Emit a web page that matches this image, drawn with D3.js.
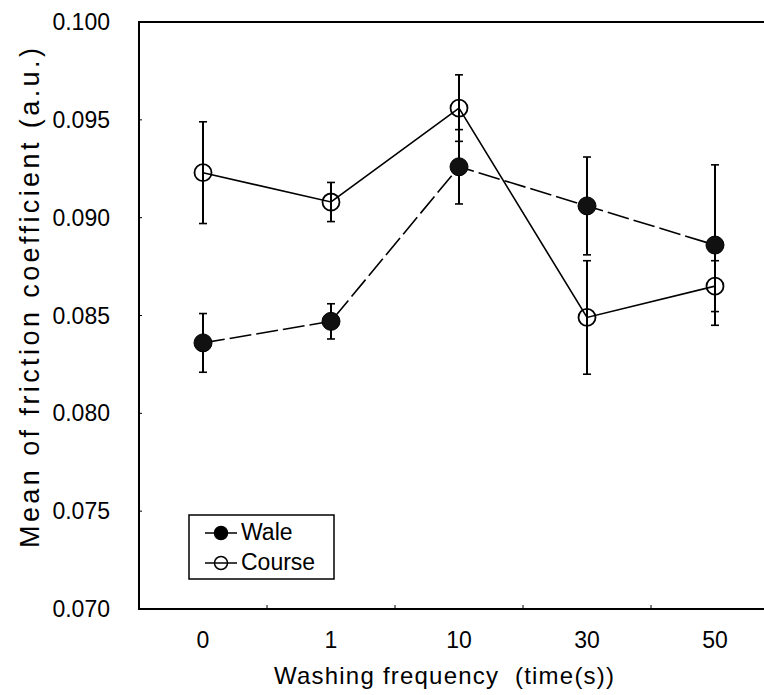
<!DOCTYPE html>
<html>
<head>
<meta charset="utf-8">
<script src="https://cdn.jsdelivr.net/npm/d3@7"></script>
<style>
  body { margin: 0; background: #fff; }
  svg { display: block; font-family: "Liberation Sans", Arial, sans-serif; }
</style>
</head>
<body>
<svg></svg>
<script>
// washing frequency categories
var washes = ["0", "1", "10", "30", "50"];
// Wale series (filled markers, dashed line)
var waleMean = [0.0836, 0.0847, 0.0926, 0.0906, 0.0886];
var waleErr = [0.0015, 0.0009, 0.0019, 0.0025, 0.0041];
// Course series (open markers, solid line)
var courseMean = [0.0923, 0.0908, 0.0956, 0.0849, 0.0865];
var courseErr = [0.0026, 0.0010, 0.0017, 0.0029, 0.0013];
var yTicks = [0.070, 0.075, 0.080, 0.085, 0.090, 0.095, 0.100];

var screen = { width: 764, height: 695 };
var margins = { left: 139, top: 22, bottom: 86 };
var plot = { right: 779, bottom: screen.height - margins.bottom };

var svg = d3.select("svg").attr("width", screen.width).attr("height", screen.height);

var xScale = d3.scalePoint().domain(washes).range([margins.left, plot.right]).padding(0.5);
var yScale = d3.scaleLinear().domain([0.07, 0.1]).range([plot.bottom, margins.top]);
var step = xScale.step();

// frame: left, top and bottom lines (right side runs off the page)
var frame = svg.append("g").attr("stroke", "#000").attr("stroke-width", 2).attr("fill", "none");
frame.append("path")
  .attr("d", "M" + plot.right + "," + margins.top + "H" + margins.left + "V" + plot.bottom + "H" + plot.right);

// inward tick marks between categories
frame.selectAll("line.xt")
  .data(washes.slice(1))
  .enter()
  .append("line")
  .attr("stroke-width", 1)
  .attr("x1", function (d) { return xScale(d) - step / 2; })
  .attr("x2", function (d) { return xScale(d) - step / 2; })
  .attr("y1", plot.bottom)
  .attr("y2", plot.bottom - 4);

frame.selectAll("line.yt")
  .data(yTicks.slice(1, -1))
  .enter()
  .append("line")
  .attr("stroke-width", 1)
  .attr("x1", margins.left)
  .attr("x2", margins.left + 3)
  .attr("y1", function (d) { return yScale(d); })
  .attr("y2", function (d) { return yScale(d); });

// tick labels
svg.append("g")
  .selectAll("text")
  .data(yTicks)
  .enter()
  .append("text")
  .attr("x", 110)
  .attr("y", function (d) { return yScale(d) + 8; })
  .attr("text-anchor", "end")
  .attr("font-size", 23)
  .text(function (d) { return d3.format(".3f")(d); });

svg.append("g")
  .selectAll("text")
  .data(washes)
  .enter()
  .append("text")
  .attr("x", function (d) { return xScale(d); })
  .attr("y", 648)
  .attr("text-anchor", "middle")
  .attr("font-size", 23)
  .text(function (d) { return d; });

// axis titles
svg.append("text")
  .attr("text-anchor", "middle")
  .attr("font-size", 27)
  .attr("textLength", 500)
  .attr("lengthAdjust", "spacing")
  .attr("transform", "translate(39,298) rotate(-90)")
  .text("Mean of friction coefficient (a.u.)");

svg.append("text")
  .attr("text-anchor", "middle")
  .attr("x", 444)
  .attr("y", 684)
  .attr("font-size", 24)
  .attr("textLength", 340)
  .attr("lengthAdjust", "spacing")
  .style("white-space", "pre")
  .text("Washing frequency  (time(s))");

var makeSeries = function (means, errs) {
  return washes.map(function (w, i) {
    return { wash: w, mean: means[i], err: errs[i] };
  });
};

var drawSeries = function (data, filled, dashed) {
  var g = svg.append("g");
  var line = d3.line()
    .x(function (d) { return xScale(d.wash); })
    .y(function (d) { return yScale(d.mean); });

  g.append("path")
    .datum(data)
    .attr("d", line)
    .attr("fill", "none")
    .attr("stroke", "#000")
    .attr("stroke-width", 1.6)
    .attr("stroke-dasharray", dashed ? "22,5" : null);

  var bars = g.selectAll("g.err").data(data).enter().append("g").attr("stroke", "#000");
  bars.append("line")
    .attr("stroke-width", 2)
    .attr("x1", function (d) { return xScale(d.wash); })
    .attr("x2", function (d) { return xScale(d.wash); })
    .attr("y1", function (d) { return yScale(d.mean - d.err); })
    .attr("y2", function (d) { return yScale(d.mean + d.err); });
  [-1, 1].forEach(function (sign) {
    bars.append("line")
      .attr("stroke-width", 1.6)
      .attr("x1", function (d) { return xScale(d.wash) - 4; })
      .attr("x2", function (d) { return xScale(d.wash) + 4; })
      .attr("y1", function (d) { return yScale(d.mean + sign * d.err); })
      .attr("y2", function (d) { return yScale(d.mean + sign * d.err); });
  });

  g.selectAll("circle")
    .data(data)
    .enter()
    .append("circle")
    .attr("cx", function (d) { return xScale(d.wash); })
    .attr("cy", function (d) { return yScale(d.mean); })
    .attr("r", filled ? 9 : 8.5)
    .attr("fill", filled ? "#111" : "none")
    .attr("stroke", "#000")
    .attr("stroke-width", filled ? 1 : 1.8);
};

drawSeries(makeSeries(courseMean, courseErr), false, false);
drawSeries(makeSeries(waleMean, waleErr), true, true);

// legend
var legend = svg.append("g").attr("transform", "translate(189,515)");
legend.append("rect")
  .attr("width", 145)
  .attr("height", 64)
  .attr("fill", "#fff")
  .attr("stroke", "#000")
  .attr("stroke-width", 1.5);

var entries = legend.selectAll("g.entry")
  .data([{ name: "Wale", filled: true }, { name: "Course", filled: false }])
  .enter()
  .append("g")
  .attr("transform", function (d, i) { return "translate(0," + (18 + i * 30) + ")"; });

entries.append("line")
  .attr("x1", 16).attr("x2", 48)
  .attr("stroke", "#000").attr("stroke-width", 1.5);
entries.append("circle")
  .attr("cx", 32).attr("r", 6.5)
  .attr("fill", function (d) { return d.filled ? "#000" : "none"; })
  .attr("stroke", "#000").attr("stroke-width", 1.5);
entries.append("text")
  .attr("x", 52).attr("y", 7)
  .attr("font-size", 23)
  .text(function (d) { return d.name; });
</script>
</body>
</html>
